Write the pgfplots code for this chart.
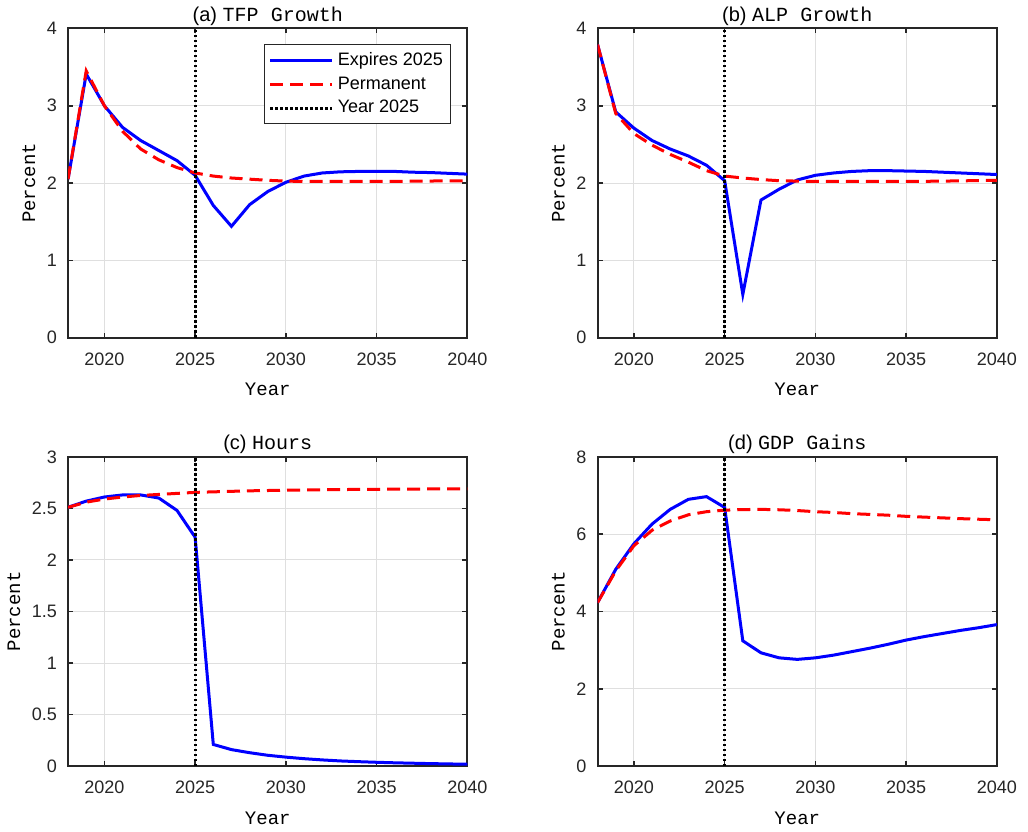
\documentclass[border=0pt]{standalone}
\usepackage{fontspec}
\setmainfont{Liberation Sans}
\setmonofont{Liberation Mono}
\usepackage{pgfplots}
\pgfplotsset{compat=1.18}
\usepgfplotslibrary{groupplots}
\definecolor{axgray}{RGB}{38,38,38}
\definecolor{gridgray}{RGB}{223,223,223}
\begin{document}
\begin{tikzpicture}
\begin{groupplot}[
  group style={group size=2 by 2, horizontal sep=65pt, vertical sep=59.5pt},
  scale only axis, width=199.5pt, height=154.5pt,
  xmin=2018, xmax=2040,
  xtick={2020,2025,2030,2035,2040},
  /pgf/number format/1000 sep={},
  /pgf/number format/assume math mode=true,
  tick label style={font=\fontsize{9}{10}\selectfont, color=axgray},
  xticklabel style={yshift=-4pt},
  yticklabel style={xshift=-2pt},
  tick align=inside, tick pos=both,
  major tick length=2.5pt,
  every tick/.style={axgray, line width=0.8pt},
  axis line style={axgray, line width=1pt},
  grid=major, grid style={gridgray, line width=0.5pt},
  xlabel={\ttfamily Year}, ylabel={\ttfamily Percent},
  label style={font=\fontsize{9.5}{10}\selectfont},
  title style={font=\fontsize{10}{11}\selectfont, yshift=-8pt},
  xlabel style={yshift=-2pt},
  ylabel style={yshift=-1pt},
  blueline/.style={blue, line width=1.5pt},
  redline/.style={red, line width=1.5pt, dash pattern=on 6.5pt off 3.5pt},
  vline/.style={black, line width=1.5pt, dash pattern=on 1.25pt off 1.25pt},
  legend image code/.code={\draw[#1] (0pt,0pt) -- (31pt,0pt);},
]
% (a)
\nextgroupplot[title={(a) {\ttfamily TFP Growth}}, ymin=0, ymax=4, ytick={0,1,2,3,4},
  legend style={at={(1,1)}, anchor=north east, xshift=-8pt, yshift=-8pt,
    font=\fontsize{9}{10}\selectfont, draw=axgray, line width=0.5pt,
    row sep=0pt, inner sep=2pt},
  legend cell align=left]
\addplot[blueline] coordinates {
(2018,2.05) (2019,3.41) (2020,3.0) (2021,2.72) (2022,2.55) (2023,2.42) (2024,2.29)
(2025,2.10) (2026,1.71) (2027,1.44) (2028,1.72) (2029,1.89) (2030,2.01) (2031,2.09)
(2032,2.13) (2033,2.145) (2034,2.15) (2035,2.15) (2036,2.15) (2037,2.14) (2038,2.135)
(2039,2.125) (2040,2.115)};
\addlegendentry{Expires 2025}
\addplot[redline] coordinates {
(2018,2.05) (2019,3.45) (2020,3.0) (2021,2.67) (2022,2.44) (2023,2.30) (2024,2.20)
(2025,2.13) (2026,2.09) (2027,2.065) (2028,2.05) (2029,2.035) (2030,2.025) (2031,2.02)
(2032,2.02) (2033,2.02) (2034,2.02) (2035,2.02) (2036,2.022) (2037,2.024) (2038,2.026)
(2039,2.028) (2040,2.03)};
\addlegendentry{Permanent}
\addplot[vline] coordinates {(2025,0) (2025,4)};
\addlegendentry{Year 2025}
% (b)
\nextgroupplot[title={(b) {\ttfamily ALP Growth}}, ymin=0, ymax=4, ytick={0,1,2,3,4}]
\addplot[blueline] coordinates {
(2018,3.79) (2019,2.92) (2020,2.71) (2021,2.55) (2022,2.44) (2023,2.35) (2024,2.23)
(2025,2.03) (2026,0.56) (2027,1.78) (2028,1.92) (2029,2.04) (2030,2.10) (2031,2.13)
(2032,2.15) (2033,2.16) (2034,2.16) (2035,2.155) (2036,2.15) (2037,2.14) (2038,2.13)
(2039,2.12) (2040,2.11)};
\addplot[redline] coordinates {
(2018,3.79) (2019,2.90) (2020,2.64) (2021,2.49) (2022,2.37) (2023,2.27) (2024,2.16)
(2025,2.09) (2026,2.065) (2027,2.045) (2028,2.03) (2029,2.025) (2030,2.02) (2031,2.02)
(2032,2.02) (2033,2.02) (2034,2.02) (2035,2.02) (2036,2.022) (2037,2.025) (2038,2.028)
(2039,2.032) (2040,2.035)};
\addplot[vline] coordinates {(2025,0) (2025,4)};
% (c)
\nextgroupplot[title={(c) {\ttfamily Hours}}, ymin=0, ymax=3, ytick={0,0.5,1,1.5,2,2.5,3}]
\addplot[blueline] coordinates {
(2018,2.51) (2019,2.57) (2020,2.61) (2021,2.63) (2022,2.63) (2023,2.60) (2024,2.48)
(2025,2.22) (2026,0.21) (2027,0.16) (2028,0.13) (2029,0.105) (2030,0.087) (2031,0.072)
(2032,0.06) (2033,0.05) (2034,0.043) (2035,0.037) (2036,0.032) (2037,0.028) (2038,0.024)
(2039,0.021) (2040,0.018)};
\addplot[redline] coordinates {
(2018,2.51) (2019,2.56) (2020,2.59) (2021,2.61) (2022,2.625) (2023,2.635) (2024,2.645)
(2025,2.655) (2026,2.66) (2027,2.665) (2028,2.67) (2029,2.673) (2030,2.676) (2031,2.678)
(2032,2.68) (2033,2.682) (2034,2.684) (2035,2.685) (2036,2.686) (2037,2.687) (2038,2.688)
(2039,2.689) (2040,2.69)};
\addplot[vline] coordinates {(2025,0) (2025,3)};
% (d)
\nextgroupplot[title={(d) {\ttfamily GDP Gains}}, ymin=0, ymax=8, ytick={0,2,4,6,8}]
\addplot[blueline] coordinates {
(2018,4.23) (2019,5.09) (2020,5.75) (2021,6.26) (2022,6.64) (2023,6.90) (2024,6.97)
(2025,6.69) (2026,3.24) (2027,2.93) (2028,2.80) (2029,2.76) (2030,2.80) (2031,2.87)
(2032,2.96) (2033,3.05) (2034,3.15) (2035,3.26) (2036,3.35) (2037,3.43) (2038,3.51)
(2039,3.58) (2040,3.66)};
\addplot[redline] coordinates {
(2018,4.23) (2019,5.05) (2020,5.70) (2021,6.10) (2022,6.34) (2023,6.50) (2024,6.58)
(2025,6.62) (2026,6.635) (2027,6.64) (2028,6.63) (2029,6.61) (2030,6.58) (2031,6.56)
(2032,6.53) (2033,6.51) (2034,6.49) (2035,6.46) (2036,6.44) (2037,6.42) (2038,6.40)
(2039,6.385) (2040,6.37)};
\addplot[vline] coordinates {(2025,0) (2025,8)};
\end{groupplot}
\path ([xshift=-34pt,yshift=14pt]group c1r1.north west) rectangle ([xshift=15.5pt,yshift=-30.5pt]group c2r2.south east);
\end{tikzpicture}
\end{document}
